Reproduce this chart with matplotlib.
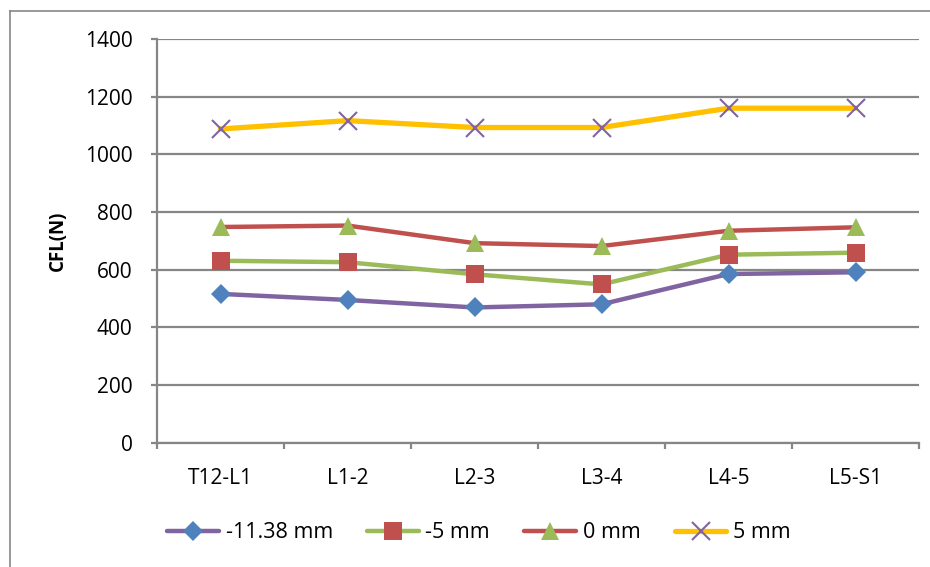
import matplotlib
matplotlib.use("Agg")
from matplotlib import pyplot as plt
from matplotlib.lines import Line2D

plt.rcParams['font.family'] = ['Open Sans', 'DejaVu Sans']

levels = ["T12-L1", "L1-2", "L2-3", "L3-4", "L4-5", "L5-S1"]
s_m1138 = [516, 495, 469, 480, 585, 591]
s_m5 = [631, 626, 584, 549, 652, 659]
s_0 = [748, 753, 692, 682, 735, 747]
s_5 = [1088, 1117, 1093, 1093, 1160, 1160]
names = ["-11.38 mm", "-5 mm", "0 mm", "5 mm"]

series = [s_m1138, s_m5, s_0, s_5]
line_cols = ['#8064A2', '#9BBB59', '#C0504D', '#FFC000']
mark_cols = ['#4F81BD', '#C0504D', '#9BBB59', '#8064A2']
markers = ['D', 's', '^', 'x']
msizes = [10.5, 13, 13.5, 13]
lws = [3.2, 3.2, 3.2, 3.8]

fig = plt.figure(figsize=(9.30, 5.67), dpi=100)
ax = fig.add_axes([157/930, 1-442.7/567, (919-157)/930, (442.7-39)/567])

x = list(range(len(levels)))
handles = []
for i in range(4):
    mew = 1.5 if markers[i] == 'x' else 0
    ax.plot(x, series[i], color=line_cols[i], lw=lws[i], zorder=2,
            solid_joinstyle='round', solid_capstyle='round')
    ax.plot(x, series[i], ls='none', marker=markers[i], ms=msizes[i],
            mfc=mark_cols[i], mec=mark_cols[i], mew=mew, zorder=3)
    handles.append(Line2D([], [], color=line_cols[i], lw=lws[i], marker=markers[i],
                          ms=msizes[i], mfc=mark_cols[i], mec=mark_cols[i], mew=mew,
                          solid_capstyle='round'))

grid_col = '#868686'
ax.set_ylim(0, 1400)
ax.set_xlim(-0.5, 5.5)
ax.set_yticks(range(0, 1401, 200))
ax.yaxis.grid(True, color=grid_col, lw=1.6)
ax.set_axisbelow(True)
for s in ['top', 'right']:
    ax.spines[s].set_visible(False)
for s in ['left', 'bottom']:
    ax.spines[s].set_color(grid_col)
    ax.spines[s].set_linewidth(1.6)

ax.set_xticks(x)
ax.set_xticklabels(levels)
ax.set_xticks([v - 0.5 for v in range(len(levels) + 1)], minor=True)
ax.tick_params(axis='x', which='major', length=0, pad=18, labelsize=15)
ax.tick_params(axis='x', which='minor', length=4, width=1.6, color=grid_col, direction='out')
ax.tick_params(axis='y', length=4.5, width=1.6, color=grid_col, pad=13, labelsize=15)

ax.set_ylabel("CFL(N)", fontsize=13.5, fontweight='bold', labelpad=12)

fig.legend(handles, names, loc='center', bbox_to_anchor=(0.515, 1-533/567), ncol=4,
           frameon=False, fontsize=15.5, handlelength=2.4, handletextpad=0.3,
           columnspacing=1.6)

# outer chart border
fig.add_artist(Line2D([10/930, 10/930], [0, 1-11/567], color=grid_col, lw=1.2))
fig.add_artist(Line2D([10/930, 1], [1-11/567, 1-11/567], color=grid_col, lw=1.2))

fig.savefig("out.png", dpi=100)
